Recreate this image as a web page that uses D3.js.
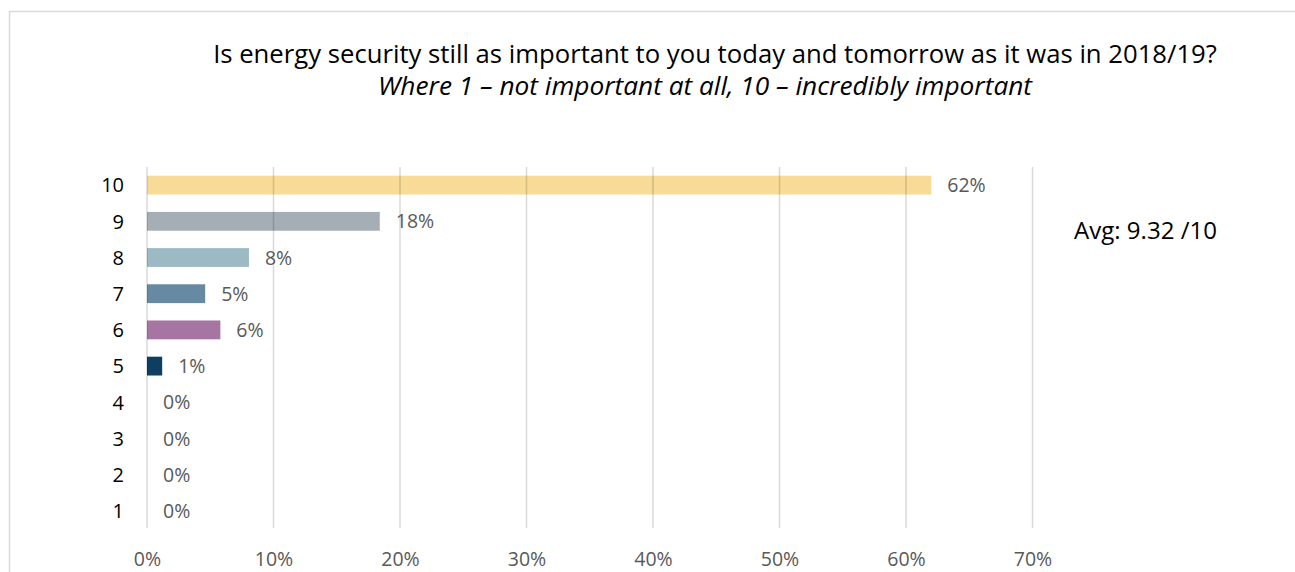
<!DOCTYPE html>
<html>
<head>
<meta charset="utf-8">
<script src="https://cdn.jsdelivr.net/npm/d3@7/dist/d3.min.js"></script>
<style>
  html, body { margin: 0; padding: 0; background: #fff; }
  svg { display: block; }
  text { font-family: "Open Sans", "Noto Sans", sans-serif; }
</style>
</head>
<body>
<svg id="chart" width="1295" height="572"></svg>
<script>
// Survey answers: importance score and share of respondents
const scores = ["10", "9", "8", "7", "6", "5", "4", "3", "2", "1"];
const shares = [0.62, 0.184, 0.0806, 0.046, 0.058, 0.012, 0, 0, 0, 0];
const barColors = ["#F7DB97", "#A5ADB5", "#9DBAC4", "#678AA2", "#A675A1", "#0E3F63",
                   "#7F7F7F", "#7F7F7F", "#7F7F7F", "#7F7F7F"];
const xTicks = [0, 0.1, 0.2, 0.3, 0.4, 0.5, 0.6, 0.7];

const titleText = "Is energy security still as important to you today and tomorrow as it was in 2018/19?";
const subtitleText = "Where 1 \u2013 not important at all, 10 \u2013 incredibly important";
const avgText = "Avg: 9.32 /10";

const data = scores.map((s, i) => ({ score: s, share: shares[i], color: barColors[i] }));

const svg = d3.select("#chart");

// Outer frame
svg.append("rect")
  .attr("x", 9.5).attr("y", 11.5)
  .attr("width", 1300).attr("height", 580)
  .attr("fill", "none")
  .attr("stroke", "#D9D9D9")
  .attr("stroke-width", 1.5);

const x = d3.scaleLinear().domain([0, 0.7]).range([147, 1032.5]);
const y = d3.scaleBand().domain(scores).range([167, 529]).paddingInner(0.48).paddingOuter(0.24);

const pct = d3.format(".0%");

// Shrink or grow a text element so it spans a given width
function fitWidth(sel, target) {
  const node = sel.node();
  const fs = parseFloat(sel.attr("font-size"));
  const w = node.getComputedTextLength();
  sel.attr("font-size", (fs * target / w).toFixed(2));
}

// Title
const title = svg.append("text")
  .attr("x", 715).attr("y", 62.5)
  .attr("text-anchor", "middle")
  .attr("font-size", 24)
  .attr("fill", "#000")
  .text(titleText);
fitWidth(title, 1004);

const subtitle = svg.append("text")
  .attr("x", 705).attr("y", 94.5)
  .attr("text-anchor", "middle")
  .attr("font-size", 22)
  .attr("font-style", "italic")
  .attr("fill", "#000")
  .text(subtitleText);
fitWidth(subtitle, 654);

// Bars
svg.append("g").selectAll("rect")
  .data(data)
  .join("rect")
  .attr("x", x(0))
  .attr("y", d => y(d.score))
  .attr("width", d => x(d.share) - x(0))
  .attr("height", y.bandwidth())
  .attr("fill", d => d.color);

// Vertical gridlines, drawn over the bars
svg.append("g").selectAll("line")
  .data(xTicks)
  .join("line")
  .attr("x1", d => x(d)).attr("x2", d => x(d))
  .attr("y1", 167).attr("y2", 528)
  .attr("stroke", "#000")
  .attr("stroke-opacity", 0.15)
  .attr("stroke-width", 1.5);

// X axis tick labels
const xAxis = d3.axisBottom(x).tickValues(xTicks).tickFormat(pct).tickSize(0).tickPadding(0);
const gx = svg.append("g").attr("transform", "translate(0,566)").call(xAxis);
gx.select(".domain").remove();
gx.selectAll("text")
  .attr("font-family", "'Open Sans', 'Noto Sans', sans-serif")
  .attr("font-size", 19.5)
  .attr("fill", "#595959")
  .attr("y", 0)
  .attr("dy", 0);

// Y axis category labels
const yAxis = d3.axisLeft(y).tickSize(0).tickPadding(0);
const gy = svg.append("g").attr("transform", "translate(124,0)").call(yAxis);
gy.select(".domain").remove();
gy.selectAll("text")
  .attr("font-family", "'Open Sans', 'Noto Sans', sans-serif")
  .attr("font-size", 20)
  .attr("fill", "#000")
  .attr("dy", "0.36em");

// Value labels
svg.append("g").selectAll("text")
  .data(data)
  .join("text")
  .attr("x", d => x(d.share) + 16)
  .attr("y", d => y(d.score) + y.bandwidth() / 2)
  .attr("dy", "0.36em")
  .attr("font-size", 19.5)
  .attr("fill", "#595959")
  .text(d => pct(d.share));

// Average score
const avg = svg.append("text")
  .attr("x", 1074).attr("y", 230)
  .attr("dy", "0.36em")
  .attr("font-size", 20)
  .attr("fill", "#000")
  .text(avgText);
fitWidth(avg, 143);
</script>
</body>
</html>
